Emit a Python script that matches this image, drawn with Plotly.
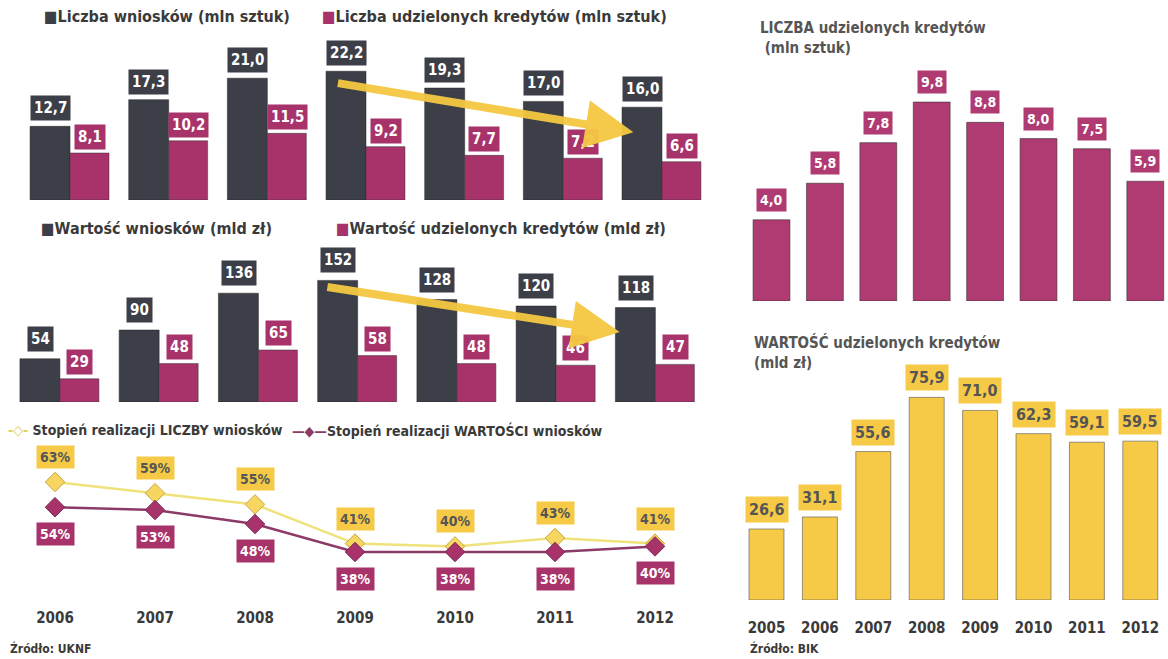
import plotly.graph_objects as go

# data (UKNF, left side)
years_l = [2006, 2007, 2008, 2009, 2010, 2011, 2012]
liczba_wnioskow = [12.7, 17.3, 21.0, 22.2, 19.3, 17.0, 16.0]
liczba_kredytow = [8.1, 10.2, 11.5, 9.2, 7.7, 7.2, 6.6]
wartosc_wnioskow = [54, 90, 136, 152, 128, 120, 118]
wartosc_kredytow = [29, 48, 65, 58, 48, 46, 47]
stopien_liczby = [63, 59, 55, 41, 40, 43, 41]
stopien_wartosci = [54, 53, 48, 38, 38, 38, 40]

# data (BIK, right side)
years_r = [2005, 2006, 2007, 2008, 2009, 2010, 2011, 2012]
bik_liczba = [4.0, 5.8, 7.8, 9.8, 8.8, 8.0, 7.5, 5.9]
bik_wartosc = [26.6, 31.1, 55.6, 75.9, 71.0, 62.3, 59.1, 59.5]

DARK = "#3c3f48"
PINK = "#a8336b"
MAGENTA = "#b03a72"
YELLOW = "#f6ca47"
LINE_Y = "#efe27a"
LINE_P = "#8c3b68"
TXT = "#3a3a3a"
FONT = "Liberation Sans Narrow, DejaVu Sans Condensed, Liberation Sans, sans-serif"

W, H = 1168, 659


def xd(a, b):
    return [a / W, b / W]


def yd(top, bottom):
    return [1 - bottom / H, 1 - top / H]


def dec(v):
    return f"{v:.1f}".replace(".", ",")


fig = go.Figure()

# panel 1: liczba
fig.add_trace(go.Bar(x=years_l, y=liczba_wnioskow, width=0.405, offset=-0.405,
                     marker=dict(color=DARK, line=dict(color="#222", width=0.5)),
                     xaxis="x", yaxis="y"))
fig.add_trace(go.Bar(x=years_l, y=liczba_kredytow, width=0.395, offset=0,
                     marker=dict(color=PINK, line=dict(color="#333", width=0.5)),
                     xaxis="x", yaxis="y"))

# panel 2: wartosc
fig.add_trace(go.Bar(x=years_l, y=wartosc_wnioskow, width=0.403, offset=-0.403,
                     marker=dict(color=DARK, line=dict(color="#222", width=0.5)),
                     xaxis="x2", yaxis="y2"))
fig.add_trace(go.Bar(x=years_l, y=wartosc_kredytow, width=0.393, offset=0,
                     marker=dict(color=PINK, line=dict(color="#333", width=0.5)),
                     xaxis="x2", yaxis="y2"))

# panel 3: stopien realizacji
fig.add_trace(go.Scatter(x=years_l, y=stopien_liczby, mode="lines+markers",
                         line=dict(color=LINE_Y, width=2.5),
                         marker=dict(symbol="diamond", size=15, color="#f6d660",
                                     line=dict(color="#c9a640", width=1)),
                         xaxis="x3", yaxis="y3"))
fig.add_trace(go.Scatter(x=years_l, y=stopien_wartosci, mode="lines+markers",
                         line=dict(color=LINE_P, width=2.5),
                         marker=dict(symbol="diamond", size=15, color=PINK,
                                     line=dict(color="#7a2a55", width=1)),
                         xaxis="x3", yaxis="y3"))

# right panels
fig.add_trace(go.Bar(x=years_r, y=bik_liczba, width=0.69,
                     marker=dict(color=MAGENTA, line=dict(color="#333", width=0.6)),
                     xaxis="x4", yaxis="y4"))
fig.add_trace(go.Bar(x=years_r, y=bik_wartosc, width=0.655,
                     marker=dict(color=YELLOW, line=dict(color="#555", width=0.6)),
                     xaxis="x5", yaxis="y5"))

ann = []


def box(x, y, text, xref, yref, bg, fg, size=15, yshift=5, anchor="bottom"):
    ann.append(dict(x=x, y=y, xref=xref, yref=yref, text=text, showarrow=False,
                    bgcolor=bg, borderpad=3, yanchor=anchor, yshift=yshift,
                    font=dict(family=FONT, size=size, color=fg, weight="bold")))


for yr, a, b in zip(years_l, liczba_wnioskow, liczba_kredytow):
    box(yr - 0.2, a, dec(a), "x", "y", DARK, "white")
    box(yr + 0.2, b, dec(b), "x", "y", PINK, "white", yshift=3)
for yr, a, b in zip(years_l, wartosc_wnioskow, wartosc_kredytow):
    box(yr - 0.2, a, str(a), "x2", "y2", DARK, "white", yshift=7)
    box(yr + 0.2, b, str(b), "x2", "y2", PINK, "white", yshift=4)
for yr, a, b in zip(years_l, stopien_liczby, stopien_wartosci):
    box(yr, a, f"{a}%", "x3", "y3", YELLOW, "#555", size=14, yshift=13)
    box(yr, b, f"{b}%", "x3", "y3", PINK, "white", size=14, yshift=-15, anchor="top")
for yr, v in zip(years_r, bik_liczba):
    box(yr, v, dec(v), "x4", "y4", MAGENTA, "white", size=14, yshift=8)
for yr, v in zip(years_r, bik_wartosc):
    box(yr, v, dec(v), "x5", "y5", YELLOW, "#555", size=16, yshift=6)

# trend arrows
for xr, yr_, x0, y0, x1, y1 in [("x", "y", 2008.7, 20.2, 2011.71, 11.7),
                                ("x2", "y2", 2008.68, 144, 2011.64, 87.5)]:
    ann.append(dict(x=x1, y=y1, ax=x0, ay=y0, xref=xr, yref=yr_, axref=xr, ayref=yr_,
                    text="", showarrow=True, arrowhead=2, arrowsize=1.2,
                    arrowwidth=8, arrowcolor="#f5c842", opacity=0.95))


def label(px, py, text, size=15, color=TXT, weight="bold", anchor="middle"):
    ann.append(dict(x=px / W, y=1 - py / H, xref="paper", yref="paper", text=text,
                    showarrow=False, xanchor="left", yanchor=anchor, align="left",
                    font=dict(family=FONT, size=size, color=color, weight=weight)))


def sq(c):
    return f"<span style='color:{c}'>■</span>"


label(42, 17, sq(DARK) + "Liczba wniosków (mln sztuk)", size=16)
label(320, 17, sq(PINK) + "Liczba udzielonych kredytów (mln sztuk)", size=16)
label(39, 228, sq(DARK) + "Wartość wniosków (mld zł)", size=16)
label(334, 228, sq(PINK) + "Wartość udzielonych kredytów (mld zł)", size=16)
label(6, 430, "<span style='color:#e6cf52'>-◇-</span> Stopień realizacji LICZBY wniosków", size=14)
label(290, 430, "<span style='color:#8c3b68'>—◆—</span>Stopień realizacji WARTOŚCI wniosków", size=14)
label(8, 648, "Źródło: UKNF", size=12)
label(748, 648, "Źródło: BIK", size=12)
label(758, 38, "LICZBA udzielonych kredytów<br> (mln sztuk)", size=15, color="#555")
label(752, 352, "WARTOŚĆ udzielonych kredytów<br>(mld zł)", size=15, color="#555")

base = dict(showgrid=False, zeroline=False, showline=False, showticklabels=False,
            fixedrange=True)
tickfont = dict(family=FONT, size=15, color=TXT, weight="bold")

fig.update_layout(
    width=W, height=H, margin=dict(l=0, r=0, t=0, b=0),
    paper_bgcolor="white", plot_bgcolor="rgba(0,0,0,0)",
    showlegend=False, barmode="overlay",
    annotations=ann,
    xaxis=dict(base, domain=xd(20.7, 711.3), range=[2005.5, 2012.5], anchor="y"),
    yaxis=dict(base, domain=yd(60.8, 200), range=[0, 24], anchor="x"),
    xaxis2=dict(base, domain=xd(10.3, 705), range=[2005.5, 2012.5], anchor="y2"),
    yaxis2=dict(base, domain=yd(266, 402), range=[0, 170], anchor="x2"),
    xaxis3=dict(base, domain=xd(5, 705), range=[2005.5, 2012.5], anchor="y3",
                showticklabels=True, tickvals=years_l, ticktext=[str(y) for y in years_l],
                ticks="outside", ticklen=30, tickcolor="rgba(0,0,0,0)", tickfont=tickfont),
    yaxis3=dict(base, domain=yd(462.4, 574.4), range=[30, 70], anchor="x3"),
    xaxis4=dict(base, domain=xd(744.8, 1168), range=[2004.5, 2012.425], anchor="y4"),
    yaxis4=dict(base, domain=yd(57.4, 301), range=[0, 12], anchor="x4"),
    xaxis5=dict(base, domain=xd(739.8, 1167), range=[2004.5, 2012.5], anchor="y5",
                showticklabels=True, tickvals=years_r, ticktext=[str(y) for y in years_r],
                ticks="outside", ticklen=14, tickcolor="rgba(0,0,0,0)", tickfont=tickfont),
    yaxis5=dict(base, domain=yd(359.7, 600), range=[0, 90], anchor="x5"),
)

fig.write_html("out.html", config={"displayModeBar": False},
               post_script="document.body.style.margin='0';")
